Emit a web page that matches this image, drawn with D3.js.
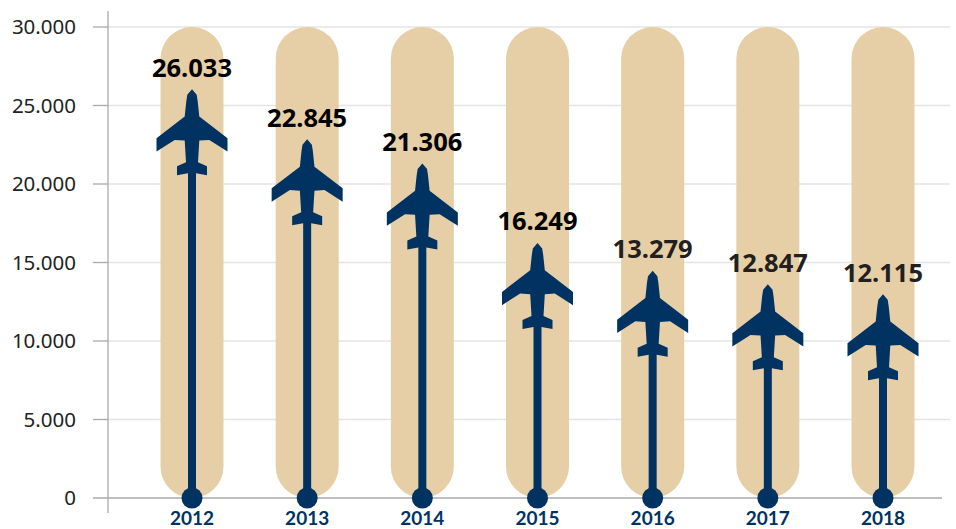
<!DOCTYPE html>
<html><head><meta charset="utf-8"><style>html,body{margin:0;background:#fff}svg{display:block}</style>
<script src="https://d3js.org/d3.v7.min.js"></script></head><body><svg width="956" height="529"></svg>
<script>
const years=[2012,2013,2014,2015,2016,2017,2018];
const labels=[26033,22845,21306,16249,13279,12847,12115];
const drawnHeights=[26033,22845,21306,16249,14480,13610,12975];
const yTicks=[0,5000,10000,15000,20000,25000,30000];
const capHeight=[30000];
const navy="#003361",sand="#e6cfa6",grid="#e4e4e4",axis="#aaaaaa";
const svg=d3.select("svg");
const y=d3.scaleLinear().domain([0,30000]).range([498,27]);
const x=d3.scalePoint().domain(years).range([192,883]);
const fmt=v=>d3.format(",")(v).replace(/,/g,".");
svg.append("g").selectAll("line").data(yTicks.slice(1)).join("line")
 .attr("x1",108).attr("x2",950).attr("y1",d=>y(d)).attr("y2",d=>y(d)).attr("stroke",grid).attr("stroke-width",1.5);
svg.append("g").selectAll("rect").data(years).join("rect")
 .attr("x",d=>x(d)-31.5).attr("width",63).attr("y",y(capHeight[0])).attr("height",y(0)-y(capHeight[0]))
 .attr("rx",31.5).attr("fill",sand);
const ax=svg.append("g").attr("stroke",axis).attr("stroke-width",1.3);
ax.append("line").attr("x1",108).attr("x2",108).attr("y1",11).attr("y2",513);
ax.append("line").attr("x1",93).attr("x2",942).attr("y1",y(0)).attr("y2",y(0));
ax.selectAll(".t").data(yTicks.slice(1)).join("line").attr("class","t").attr("x1",93).attr("x2",108).attr("y1",d=>y(d)).attr("y2",d=>y(d));
svg.append("g").selectAll("text").data(yTicks).join("text")
 .attr("x",76).attr("y",d=>y(d)+7.2).attr("text-anchor","end").attr("font-family","'Noto Sans'").attr("font-size",20.5).attr("fill","#222")
 .text(fmt);
svg.append("g").selectAll("line").data(years).join("line")
 .attr("x1",d=>x(d)).attr("x2",d=>x(d)).attr("y1",y(0)).attr("y2",(d,i)=>y(drawnHeights[i])+80)
 .attr("stroke",navy).attr("stroke-width",8);
svg.append("g").selectAll("circle").data(years).join("circle")
 .attr("cx",d=>x(d)).attr("cy",y(0)).attr("r",10.5).attr("fill",navy);
const half=[[0,0],[4.7,5.5],[5.7,12],[7.3,27.3],[35.5,49],[35.5,62.3],[17.3,50.7],[7.3,51.3],[6,73],[15,77],[15,86],[4,84],[0,84]];
const pts=half.concat(half.slice(1,-1).reverse().map(p=>[-p[0],p[1]]));
const path=d3.line()(pts)+"Z";
svg.append("g").selectAll("path").data(years).join("path")
 .attr("d",path).attr("transform",(d,i)=>`translate(${x(d)},${y(drawnHeights[i])})`).attr("fill",navy);
svg.append("g").selectAll("text").data(years).join("text")
 .attr("x",d=>x(d)).attr("y",(d,i)=>y(drawnHeights[i])-12.5).attr("text-anchor","middle")
 .attr("font-family","'Noto Sans'").attr("font-weight",700).attr("font-size",25.5)
 .attr("fill",(d,i)=>i>3?"#231f20":"#000").text((d,i)=>fmt(labels[i]));
svg.append("g").selectAll("text").data(years).join("text")
 .attr("x",d=>x(d)).attr("y",525).attr("text-anchor","middle")
 .attr("font-family","Lato").attr("font-weight",700).attr("font-size",19).attr("fill",navy).text(d=>d);
</script></body></html>
